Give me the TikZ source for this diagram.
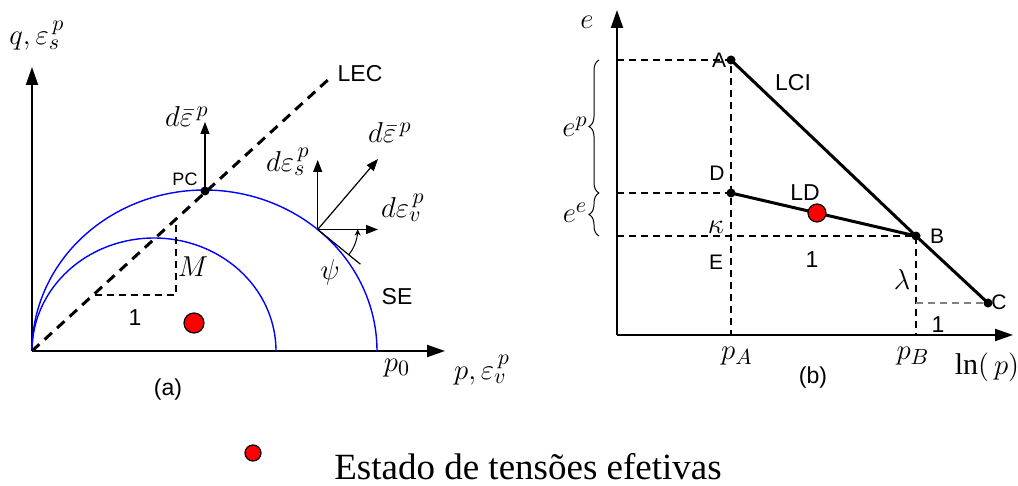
\documentclass[tikz,border=0pt]{standalone}
\usepackage{fontspec}
\setmainfont{Liberation Serif}
\setsansfont{Liberation Sans}
\usepackage{amsmath, amssymb}
\usetikzlibrary{arrows.meta}
\usetikzlibrary{decorations.pathreplacing}
\tikzset{
        lbl/.style={inner sep=0pt},
        % Axes
        axis_line/.style={line width=1pt, -{Triangle[length=9pt, width=6pt]}},
        % Strain increment vectors
        vec_arrow/.style={line width=0.6pt, -{Triangle[length=6pt, width=4.5pt]}},
        % Yield surfaces
        yield_curve/.style={blue, line width=0.7pt},
        % State lines (LEC, LCI, LD)
        state_line/.style={line width=1.5pt},
        % Guide lines
        guide_line/.style={dash pattern=on 3.5pt off 2.5pt, line width=0.6pt},
        % Points on the lines
        node_point/.style={circle, fill=black, minimum size=4.5pt, inner sep=0pt},
        % Effective stress state
        node_stress/.style={circle, draw=black, fill=red, line width=0.6pt, inner sep=0pt},
        sans_label/.style={lbl, font=\sffamily\fontsize{11.5}{13}\selectfont},
        math_label/.style={lbl, font=\fontsize{15}{17}\selectfont}
}
\begin{document}
\begin{tikzpicture}[x=0.5pt, y=-0.5pt]
    \useasboundingbox (0,0) rectangle (1018,486);

    % ---- (a) p-q plane
    \coordinate (Oa) at (32,351);
    \coordinate (qtop) at (32,67);
    \coordinate (ptop) at (445,351);
    \draw[axis_line] (Oa) -- (qtop);
    \draw[axis_line] (Oa) -- (ptop);
    \draw[yield_curve] plot[domain=0:180, samples=90, smooth] ({204.5+172.5*cos(\x)}, {351-161*sin(\x)});
    \draw[yield_curve] plot[domain=0:180, samples=90, smooth] ({154+122*cos(\x)}, {351-113*sin(\x)});
    \coordinate (lec) at (330,78);
    \draw[state_line, dash pattern=on 5pt off 3.5pt] (Oa) -- (lec);
    \node[node_point] (PC) at (205,191) {};
    \coordinate (PCup) at (205,122);
    \draw[vec_arrow] (PC.center) -- (PCup);
    % slope M
    \coordinate (m1) at (95,295);
    \coordinate (m2) at (176,295);
    \coordinate (m3) at (176,221);
    \draw[guide_line] (m1) -- (m2) -- (m3);
    % strain increments at the yield surface
    \coordinate (T) at (317.7,229.5);
    \coordinate (Ts) at (317.7,160);
    \coordinate (Tbar) at (378,159);
    \coordinate (Tv) at (378,229.5);
    \coordinate (Ttan) at (360.4,264.2);
    \draw[vec_arrow] (T) -- (Ts);
    \draw[vec_arrow] (T) -- (Tbar);
    \draw[vec_arrow] (T) -- (Tv);
    \draw[line width=0.6pt] (T) -- (Ttan);
    \draw[line width=0.5pt, {Stealth[length=3pt, width=3pt]}-] plot[domain=0:39, samples=20, smooth] ({317.7+40*cos(\x)}, {229.5+40*sin(\x)});
    \node[node_stress, minimum size=10pt] (sa) at (194,323) {};

    \node[math_label] (qlab) at (37,36) {$q,\varepsilon_s^{\,p}$};
    \node[math_label] (plab) at (482,370) {$p,\varepsilon_v^{\,p}$};
    \node[math_label] (p0) at (397,368) {$p_0$};
    \node[sans_label] (LEC) at (360,74) {LEC};
    \node[sans_label, font=\sffamily\fontsize{9}{10}\selectfont] (PCl) at (185,179) {PC};
    \node[math_label] (dbar1) at (187,117) {$d\bar{\varepsilon}^{\,p}$};
    \node[math_label] (des) at (288,162) {$d\varepsilon_s^{\,p}$};
    \node[math_label] (dbar2) at (390,133) {$d\bar{\varepsilon}^{\,p}$};
    \node[math_label] (dev) at (403,208) {$d\varepsilon_v^{\,p}$};
    \node[math_label] (psi) at (330,272) {$\psi$};
    \node[sans_label] (SE) at (397,297) {SE};
    \node[math_label] (Ml) at (193,267) {$M$};
    \node[sans_label] (one_a) at (135,318) {1};
    \node[sans_label] (cap_a) at (168,390) {(a)};

    % ---- (b) e-ln(p) plane
    \coordinate (Ob) at (617,335);
    \coordinate (etop) at (617,10);
    \coordinate (lnp) at (1013,335);
    \draw[axis_line] (Ob) -- (etop);
    \draw[axis_line] (Ob) -- (lnp);
    \node[node_point] (A) at (731,60) {};
    \node[node_point] (B) at (916,236) {};
    \node[node_point] (C) at (988,303) {};
    \node[node_point] (D) at (731,193) {};
    \coordinate (eA) at (617,60);
    \coordinate (eD) at (617,193);
    \coordinate (eB) at (617,236);
    \coordinate (pA) at (731,335);
    \coordinate (pB) at (916,335);
    \coordinate (lamC) at (916,303);
    \draw[guide_line] (eA) -- (A.center) -- (pA);
    \draw[guide_line] (eD) -- (D.center);
    \draw[guide_line] (eB) -- (B.center) -- (pB);
    \draw[guide_line, gray] (lamC) -- (C.center);
    \draw[state_line] (A.center) -- (B.center) -- (C.center);
    \draw[state_line] (D.center) -- (B.center);
    \node[node_stress, minimum size=9pt] (sb) at (817,213) {};
    % elastic and plastic parts
    \coordinate (brA) at (599,60);
    \coordinate (brD) at (599,193);
    \coordinate (brB) at (599,236);
    \draw[line width=0.5pt, decorate, decoration={brace, amplitude=5pt}] (brD) -- (brA);
    \draw[line width=0.5pt, decorate, decoration={brace, amplitude=5pt}] (brB) -- (brD);

    \node[math_label] (elab) at (587,22) {$e$};
    \node[math_label] (ep) at (575,127) {$e^p$};
    \node[math_label] (ee) at (575,213) {$e^e$};
    \node[sans_label, font=\sffamily\fontsize{10.5}{12}\selectfont] (Al) at (719,60) {A};
    \node[sans_label, font=\sffamily\fontsize{10.5}{12}\selectfont] (Bl) at (937,236) {B};
    \node[sans_label, font=\sffamily\fontsize{10.5}{12}\selectfont] (Cl) at (999,302) {C};
    \node[sans_label, font=\sffamily\fontsize{10.5}{12}\selectfont] (Dl) at (717,173) {D};
    \node[sans_label, font=\sffamily\fontsize{10.5}{12}\selectfont] (El) at (716,262) {E};
    \node[sans_label] (LCI) at (793,83) {LCI};
    \node[sans_label] (LD) at (805,193) {LD};
    \node[math_label] (kap) at (716,227) {$\kappa$};
    \node[sans_label] (one_b) at (812,260) {1};
    \node[math_label] (lam) at (902,280) {$\lambda$};
    \node[sans_label] (one_c) at (938,325) {1};
    \node[math_label] (pAl) at (737,356) {$p_A$};
    \node[math_label] (pBl) at (913,356) {$p_B$};
    \node[math_label] (lnl) at (987,367) {$\ln(\,p)$};
    \node[sans_label] (cap_b) at (813,378) {(b)};

    % ---- legend
    \node[node_stress, minimum size=8pt] (leg) at (253,453) {};
    \node[lbl, font=\fontsize{18.5}{22}\selectfont] (legtxt) at (528,467) {Estado de tensões efetivas};
\end{tikzpicture}
\end{document}
